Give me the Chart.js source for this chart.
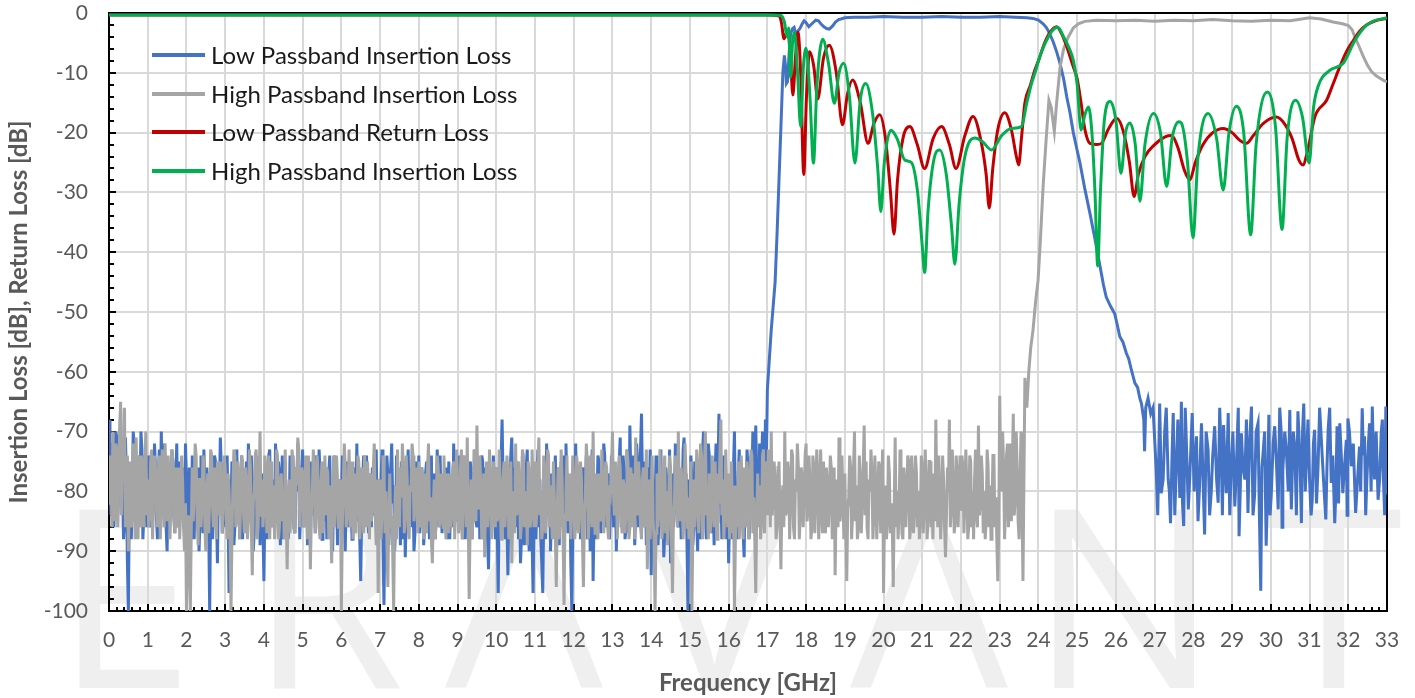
<!DOCTYPE html>
<html>
<head>
<meta charset="utf-8">
<script src="https://cdn.jsdelivr.net/npm/chart.js@4.4.0/dist/chart.umd.min.js"></script>
<style>
  html, body { margin: 0; padding: 0; background: #fff; }
  #wrap { width: 1415px; height: 698px; }
</style>
</head>
<body>
<div id="wrap"><canvas id="chart" width="1415" height="698"></canvas></div>
<script>
// noise floor sections are a plain sweep: main points every 0.05 GHz,
// the "Mid" arrays hold the points half a step later
const sweepStep = 0.05;

const xTickValues = [0,1,2,3,4,5,6,7,8,9,10,11,12,13,14,15,16,17,18,19,20,21,22,23,24,25,26,27,28,29,30,31,32,33];
const yTickValues = [0,-10,-20,-30,-40,-50,-60,-70,-80,-90,-100];

// Low passband insertion loss, 0.00 - 16.95 GHz
const blueNoiseLow = [
  -68,-84,-74,-79,-71,-80,-66,-77,-85,-78,-100,-76,-82,-72,-86,-75,-80,-73,-84,-77,
  -79,-86,-74,-81,-76,-88,-73,-70,-83,-78,-90,-77,-82,-75,-87,-72,-80,-84,-76,-83,
  -78,-85,-80,-74,-88,-79,-76,-84,-81,-73,-87,-79,-100,-77,-83,-75,-92,-80,-76,-85,
  -79,-74,-97,-82,-76,-86,-73,-80,-78,-88,-81,-75,-72,-84,-79,-87,-74,-83,-89,-77,
  -95,-76,-82,-73,-86,-79,-72,-84,-77,-81,-88,-75,-80,-85,-78,-74,-87,-80,-76,-83,
  -73,-81,-78,-86,-75,-82,-79,-74,-84,-77,-88,-80,-76,-83,-74,-81,-79,-85,-89,-78,
  -82,-77,-90,-75,-83,-79,-86,-76,-72,-81,-95,-78,-84,-74,-87,-79,-76,-82,-73,-80,
  -85,-73,-99,-80,-77,-84,-72,-79,-86,-76,-81,-75,-88,-91,-78,-83,-76,-80,-87,-79,
  -74,-82,-78,-86,-75,-81,-79,-90,-77,-84,-80,-74,-87,-79,-76,-83,-88,-78,-72,-81,
  -85,-77,-80,-74,-88,-79,-83,-76,-82,-73,-86,-78,-81,-75,-84,-80,-93,-77,-82,-79,
  -76,-97,-84,-68,-80,-77,-94,-79,-71,-83,-86,-75,-81,-88,-78,-84,-73,-90,-80,-97,
  -82,-78,-86,-88,-97,-79,-72,-84,-90,-77,-81,-85,-76,-83,-79,-74,-72,-87,-80,-100,
  -78,-72,-83,-79,-86,-76,-81,-88,-77,-84,-95,-79,-82,-75,-87,-80,-74,-85,-78,-81,
  -76,-84,-90,-79,-71,-82,-77,-86,-80,-69,-85,-78,-83,-75,-81,-67,-86,-79,-88,-82,
  -94,-78,-83,-76,-85,-73,-80,-87,-79,-84,-92,-77,-81,-75,-86,-79,-82,-71,-77,-100,
  -83,-78,-86,-80,-90,-76,-82,-70,-84,-79,-74,-87,-81,-77,-85,-67,-80,-83,-76,-88,
  -92,-79,-84,-70,-81,-77,-86,-78,-91,-82,-76,-85,-79,-74,-69,-80,-72,-76,-71,-68
];
const blueNoiseLowMid = [
  -78,-72,-86,-70,-84,-73,-81,-88,-71,-92,-82,-88,-70,-84,-74,-85,-70,-88,-74,-86,
  -74,-80,-85,-72,-84,-77,-82,-79,-72,-86,-80,-85,-73,-84,-78,-86,-75,-79,-86,-72,
  -83,-76,-88,-81,-78,-85,-90,-74,-87,-80,-76,-86,-82,-88,-74,-84,-79,-71,-87,-78,
  -86,-84,-80,-75,-89,-78,-84,-88,-74,-79,-86,-82,-80,-74,-90,-78,-85,-76,-80,-86,
  -83,-88,-74,-84,-78,-86,-80,-75,-89,-74,-79,-84,-88,-74,-82,-86,-76,-72,-88,-77,
  -86,-75,-89,-77,-84,-76,-87,-82,-73,-86,-78,-85,-88,-77,-86,-90,-74,-80,-81,-84,
  -74,-85,-80,-86,-76,-88,-78,-82,-85,-88,-83,-74,-79,-82,-77,-86,-84,-75,-85,-78,
  -78,-88,-84,-74,-89,-76,-82,-90,-74,-85,-89,-83,-79,-84,-73,-79,-86,-90,-75,-84,
  -87,-76,-89,-77,-84,-88,-74,-82,-88,-73,-86,-83,-77,-85,-88,-75,-80,-86,-84,-76,
  -74,-86,-88,-83,-78,-86,-75,-88,-77,-85,-79,-88,-74,-86,-76,-88,-83,-85,-74,-88,
  -86,-82,-75,-78,-88,-85,-83,-74,-80,-76,-79,-88,-92,-74,-89,-76,-85,-79,-88,-84,
  -88,-73,-78,-92,-84,-88,-80,-77,-84,-86,-74,-79,-89,-75,-86,-84,-80,-78,-92,-86,
  -85,-80,-76,-88,-77,-84,-74,-79,-90,-73,-84,-88,-74,-84,-79,-72,-86,-77,-88,-74,
  -86,-78,-82,-75,-86,-74,-88,-73,-87,-78,-74,-89,-72,-86,-73,-79,-75,-89,-76,-73,
  -82,-88,-74,-89,-78,-86,-91,-76,-88,-73,-82,-86,-72,-85,-77,-88,-73,-84,-89,-78,
  -74,-89,-75,-85,-79,-88,-74,-80,-88,-72,-83,-78,-89,-72,-76,-79,-88,-74,-85,-79,
  -84,-88,-76,-83,-88,-73,-80,-87,-79,-73,-88,-74,-70,-86,-77,-85,-79,-70,-80,-75
];
const bluePassFreq = [17.00,17.05,17.10,17.15,17.20,17.25,17.30,17.35,17.40,17.44,17.47,17.49,17.52,17.56,17.60,17.65,17.69,17.73,17.78,17.84,
  17.90,17.95,18.01,18.07,18.15,18.25,18.32,18.38,18.46,18.53,18.60,18.68,18.76,18.84,18.90,19.0,19.24,19.6,20.0,20.5,
  21.0,21.5,22.0,22.5,23.0,23.4,23.7,23.86,24.0,24.12,24.2,24.28,24.38,24.47,24.55,24.65,24.73,24.81,24.9,25.0,
  25.07,25.2,25.33,25.45,25.58,25.68,25.75,25.86,25.97,26.03,26.1,26.18,26.27,26.33,26.4,26.49,26.56,26.62,26.66,26.72,
  26.74,26.77,26.83,26.9,26.96];
const bluePassLoss = [-63,-58,-53,-49,-45,-37,-28,-19,-10,-7.1,-9,-11.8,-11.5,-7,-3.5,-2.6,-2.4,-3.4,-3.1,-2.6,
  -1.8,-1.3,-1.7,-2.3,-1.8,-1.2,-1.3,-1.8,-2.3,-2.6,-2.7,-2.2,-1.5,-1.1,-1.0,-0.8,-0.7,-0.7,-0.6,-0.7,
  -0.7,-0.6,-0.7,-0.7,-0.6,-0.7,-0.8,-0.9,-1.2,-1.8,-2.4,-3.3,-4.8,-6.5,-8.3,-11,-14,-16.5,-20,-23,
  -25,-29.5,-33.5,-37.5,-42,-45.5,-47.5,-49,-50.3,-52,-54.1,-55,-56.9,-57.8,-59.7,-61.9,-62.6,-64.5,-65.3,-68,
  -73.3,-66,-64.4,-67,-66];
const blueStopFreq = [27.04,27.13,27.17,27.26,27.35,27.41,27.48,27.56,27.65,27.69,27.75,27.82,27.91,27.97,
  28.08,28.16,28.21,28.29,28.38,28.46,28.55,28.64,28.72,28.78,28.85,28.90,28.98,
  29.07,29.13,29.18,29.24,29.33,29.41,29.50,29.58,29.67,29.74,29.80,29.88,29.95,
  30.01,30.10,30.19,30.27,30.31,30.40,30.49,30.53,30.62,30.70,30.79,30.85,30.92,
  31.00,31.07,31.13,31.22,31.30,31.42,31.48,31.56,31.65,31.71,31.78,31.86,31.95,31.99,
  32.08,32.19,32.29,32.36,32.42,32.48,32.55,32.62,32.68,32.77,32.85,32.90,32.97,33.00];
const blueStopLoss = [-76.4,-65.3,-80.3,-70,-78,-85.3,-66.9,-75.8,-81.1,-65,-85.8,-71.9,-77.2,-66.9,
  -70.8,-79.1,-68.6,-87.2,-73,-80.3,-69.1,-81.9,-74.1,-68.9,-80.3,-66.9,-75.8,
  -82.5,-71.9,-87.5,-70.3,-78,-83.6,-65.8,-80.8,-68.6,-96.6,-73.6,-89.1,-67.2,
  -80.8,-69.1,-83,-70.3,-76.4,-73,-66.4,-83,-72.5,-66.6,-85.3,-65.3,-74.7,
  -78,-81.4,-69.7,-75.8,-70.8,-84.7,-69.7,-78.6,-85.3,-69.1,-68.6,-80.3,-71.4,-67.8,
  -75.8,-83.6,-72.5,-66.1,-70.8,-78,-68.6,-65.8,-78,-81.4,-70.3,-76.4,-65.8,-80.5];
const blueStopFreq2 = [27.08,27.15,27.22,27.30,27.38,27.45,27.52,27.60,27.67,27.72,27.79,27.87,27.94,28.02,28.12,28.19,28.25,28.33,28.42,28.50,
  28.60,28.68,28.75,28.82,28.88,28.94,29.02,29.10,29.16,29.21,29.28,29.37,29.45,29.54,29.62,29.70,29.77,29.84,29.92,29.98,
  30.06,30.15,30.23,30.29,30.36,30.45,30.51,30.58,30.66,30.75,30.82,30.89,30.96,31.04,31.10,31.18,31.26,31.36,31.45,31.52,
  31.60,31.68,31.75,31.82,31.90,31.97,32.03,32.13,32.24,32.32,32.39,32.45,32.52,32.59,32.65,32.72,32.81,32.88,32.94,32.99];
const blueStopLoss2 = [-84,-72,-78,-66,-80,-74,-84,-68,-76,-82,-66,-83,-72,-80,-85,-72,-78,-70,-84,-74,
  -78,-66,-84,-76,-72,-84,-70,-78,-66,-80,-76,-68,-72,-84,-70,-82,-76,-70,-78,-84,
  -72,-76,-66,-86,-70,-80,-76,-70,-84,-74,-70,-80,-68,-84,-72,-82,-66,-78,-76,-66,
  -74,-80,-82,-74,-76,-84,-70,-72,-78,-80,-74,-84,-72,-80,-74,-70,-78,-68,-84,-72];

// High passband insertion loss, 0.00 - 23.60 GHz
const grayNoise = [
  -82,-76,-70,-85,-73,-79,-65,-72,-66,-81,-90,-75,-84,-77,-71,-88,-79,-74,-86,-70,
  -78,-84,-73,-80,-76,-86,-74,-82,-79,-72,-85,-77,-81,-75,-87,-80,-76,-83,-78,-90,
  -100,-84,-100,-76,-80,-74,-89,-78,-83,-75,-90,-77,-81,-74,-86,-79,-75,-84,-78,-82,
  -76,-88,-80,-100,-79,-74,-85,-77,-82,-75,-87,-79,-84,-76,-94,-80,-73,-86,-70,-78,
  -83,-76,-81,-88,-75,-79,-84,-74,-86,-77,-80,-73,-93,-78,-82,-75,-87,-79,-73,-81,
  -77,-85,-79,-74,-93,-80,-76,-83,-78,-88,-75,-81,-84,-77,-79,-92,-74,-82,-78,-86,
  -100,-79,-76,-84,-73,-81,-88,-77,-82,-75,-85,-79,-74,-86,-80,-77,-83,-72,-89,-97,
  -78,-83,-75,-80,-96,-77,-84,-100,-79,-73,-86,-81,-76,-84,-78,-88,-80,-74,-83,-79,
  -75,-84,-80,-77,-87,-72,-81,-92,-78,-83,-76,-85,-79,-74,-88,-80,-77,-84,-75,-82,
  -79,-86,-73,-81,-77,-71,-98,-78,-84,-76,-69,-83,-79,-87,-91,-75,-82,-78,-85,-80,
  -76,-84,-79,-88,-75,-82,-77,-86,-92,-80,-72,-83,-78,-85,-74,-81,-89,-77,-84,-79,
  -75,-83,-71,-80,-86,-77,-82,-74,-79,-88,-81,-96,-76,-84,-78,-99,-80,-85,-77,-82,
  -79,-86,-76,-83,-78,-96,-81,-75,-84,-79,-70,-87,-80,-77,-85,-78,-82,-76,-88,-80,
  -70,-84,-78,-81,-76,-87,-79,-83,-75,-86,-80,-77,-71,-84,-79,-88,-76,-82,-93,-78,
  -81,-85,-100,-77,-83,-79,-86,-74,-80,-84,-76,-97,-82,-78,-70,-85,-79,-83,-77,-81,
  -86,-100,-78,-83,-76,-81,-74,-85,-70,-80,-77,-84,-79,-75,-88,-82,-68,-78,-84,-80,
  -77,-83,-87,-100,-79,-75,-84,-80,-76,-86,-78,-82,-74,-81,-97,-77,-79,-85,-73,-80,
  -84,-76,-70,-81,-78,-86,-75,-93,-79,-70,-83,-77,-82,-74,-88,-80,-76,-84,-78,-81,
  -72,-83,-79,-86,-76,-81,-77,-84,-80,-75,-87,-79,-82,-76,-85,-94,-78,-71,-83,-80,
  -77,-95,-81,-76,-84,-70,-79,-86,-78,-82,-69,-75,-88,-80,-77,-84,-79,-83,-76,-81,
  -97,-79,-85,-77,-82,-96,-71,-80,-84,-76,-88,-79,-81,-75,-86,-78,-83,-77,-80,-85,
  -76,-82,-79,-84,-75,-81,-77,-68,-86,-80,-83,-78,-91,-76,-68,-82,-79,-85,-77,-80,
  -83,-76,-81,-79,-86,-75,-80,-78,-84,-69,-82,-77,-80,-85,-76,-79,-83,-74,-81,-95,
  -64,-80,-76,-83,-72,-79,-85,-67,-81,-76,-88,-70,-95
];
const grayNoiseMid = [
  -74,-86,-80,-72,-86,-70,-84,-78,-86,-74,-80,-86,-72,-88,-80,-74,-86,-80,-76,-84,
  -86,-75,-88,-74,-83,-77,-88,-73,-86,-80,-74,-88,-73,-84,-76,-86,-88,-74,-86,-82,
  -88,-92,-86,-85,-72,-84,-78,-86,-74,-86,-80,-87,-73,-83,-76,-88,-83,-75,-87,-74,
  -84,-77,-86,-88,-73,-86,-75,-88,-74,-84,-76,-88,-73,-86,-82,-74,-88,-79,-84,-86,
  -74,-87,-74,-78,-86,-88,-73,-88,-78,-85,-88,-84,-82,-87,-73,-86,-76,-71,-86,-76,
  -86,-74,-88,-83,-84,-73,-87,-74,-86,-79,-87,-74,-76,-88,-85,-80,-86,-74,-86,-78,
  -86,-72,-86,-79,-86,-75,-78,-87,-74,-88,-76,-87,-82,-75,-88,-85,-76,-84,-78,-84,
  -88,-74,-87,-88,-84,-86,-90,-84,-88,-82,-76,-72,-87,-74,-86,-79,-72,-85,-76,-87,
  -86,-76,-88,-84,-76,-85,-88,-82,-88,-74,-86,-77,-86,-84,-77,-87,-86,-76,-88,-73,
  -87,-76,-88,-74,-86,-84,-85,-88,-73,-85,-80,-74,-88,-77,-80,-86,-73,-88,-75,-86,
  -85,-73,-88,-78,-86,-74,-88,-75,-84,-87,-84,-75,-88,-73,-86,-80,-75,-86,-73,-86,
  -86,-76,-84,-88,-74,-87,-73,-86,-84,-75,-87,-83,-88,-73,-88,-84,-74,-79,-88,-74,
  -88,-74,-87,-75,-88,-84,-72,-88,-74,-86,-82,-77,-88,-84,-73,-87,-75,-86,-79,-76,
  -80,-75,-88,-74,-85,-78,-87,-73,-88,-76,-86,-88,-82,-75,-86,-78,-86,-73,-84,-88,
  -74,-88,-87,-86,-73,-88,-76,-87,-89,-74,-88,-84,-74,-86,-80,-76,-88,-72,-86,-88,
  -75,-88,-86,-73,-87,-72,-88,-76,-84,-88,-87,-74,-86,-84,-77,-74,-84,-88,-73,-86,
  -88,-75,-79,-88,-86,-88,-74,-88,-84,-75,-88,-73,-87,-88,-84,-86,-88,-74,-87,-75,
  -73,-86,-84,-75,-88,-76,-84,-82,-86,-84,-75,-88,-73,-86,-78,-72,-88,-76,-86,-74,
  -85,-74,-88,-74,-87,-73,-88,-73,-87,-84,-76,-86,-74,-88,-76,-82,-86,-85,-74,-88,
  -86,-83,-74,-88,-76,-85,-88,-74,-87,-76,-84,-86,-78,-73,-88,-74,-88,-75,-87,-73,
  -84,-88,-74,-87,-85,-83,-86,-88,-73,-87,-76,-86,-74,-88,-74,-87,-74,-86,-88,-74,
  -87,-73,-88,-75,-86,-88,-85,-80,-74,-88,-74,-86,-84,-80,-86,-73,-87,-74,-86,-74,
  -74,-87,-73,-88,-74,-86,-88,-73,-86,-84,-74,-87,-88,-73,-86,-88,-74,-86,-88,-86,
  -78,-70,-88,-74,-86,-72,-76,-84,-70,-85,-78,-82
];
const grayPassFreq = [23.65,23.70,23.75,23.80,23.86,23.93,23.99,24.05,24.12,24.20,
  24.27,24.33,24.41,24.47,24.56,24.65,24.77,24.90,25.03,25.20,25.50,
  26.00,26.50,27.00,27.50,28.00,28.50,29.00,29.50,30.00,30.50,
  31.00,31.30,31.61,31.85,32.00,32.10,
  32.17,32.28,32.39,32.50,32.60,32.72,32.82,32.92,33.00];
const grayPassLoss = [-61,-66,-60,-56,-53,-48,-44.7,-38,-29,-21,
  -14.6,-15.8,-19.8,-15,-9,-6,-4,-2.5,-1.8,-1.4,-1.2,
  -1.3,-1.2,-1.4,-1.2,-1.3,-1.1,-1.3,-1.4,-1.2,-1.3,
  -0.8,-1.0,-1.5,-1.8,-2.1,-2.8,
  -4,-5.6,-7.3,-8.8,-9.8,-10.5,-10.9,-11.3,-11.5];

// Low passband return loss
const redFreq = [0,17.0,17.3,17.36,17.43,17.48,17.53,17.6,17.66,17.72,
  17.79,17.86,17.94,18.01,18.09,18.2,18.3,18.45,18.6,18.78,
  18.94,19.07,19.2,19.4,19.6,19.75,19.9,20.05,20.18,20.27,
  20.36,20.5,20.68,20.87,21.06,21.28,21.5,21.7,21.87,22.1,
  22.31,22.52,22.65,22.73,22.82,22.95,23.13,23.3,23.43,23.49,
  23.56,23.65,23.78,23.91,24.0,24.16,24.3,24.47,24.6,24.75,
  24.9,25.0,25.1,25.2,25.33,25.5,25.63,25.8,26.02,26.2,
  26.35,26.47,26.58,26.75,27.0,27.27,27.44,27.6,27.78,27.91,
  28.05,28.25,28.5,28.77,29.0,29.2,29.37,29.55,29.8,30.14,
  30.35,30.55,30.72,30.83,30.95,31.14,31.44,31.6,31.78,31.95,
  32.13,32.3,32.47,32.7,33.0];
const redLoss = [-0.35,-0.35,-0.5,-1.5,-4.3,-3.5,-2.9,-8,-13.7,-8,
  -3.2,-10,-27,-14,-6.5,-9,-14.4,-7.5,-5.4,-10,
  -18.7,-13.5,-11.2,-15,-21.8,-18.5,-17,-21,-30,-37,
  -28,-21,-19,-22,-26,-21,-19,-22,-26,-20.5,
  -17.3,-21.5,-27,-32.6,-26,-19.5,-16.7,-19.5,-24,-25.4,
  -21,-15,-12.3,-9.5,-8,-5,-3.2,-2.3,-3.5,-6,
  -9,-11,-15,-19.5,-21.8,-22,-21.8,-19.5,-17.6,-20,
  -25,-30.7,-27,-24,-22,-20.7,-20.5,-22.5,-26.5,-27.9,
  -25,-22,-20,-19.3,-20,-21.3,-21.8,-20.5,-18.5,-17.4,
  -18.5,-21,-24.5,-25.4,-23,-17.3,-14.6,-12,-9,-6.5,
  -4.6,-3,-2,-1.3,-0.9];

// High passband return loss (labelled "Insertion Loss" in the original legend)
const greenFreq = [0,17.0,17.35,17.44,17.51,17.55,17.6,17.65,17.7,17.78,
  17.86,17.93,18.0,18.1,18.19,18.28,18.43,18.58,18.73,18.85,
  18.97,19.12,19.26,19.4,19.54,19.72,19.85,19.93,20.02,20.19,
  20.35,20.55,20.72,20.88,21.0,21.06,21.15,21.3,21.45,21.62,
  21.76,21.84,21.95,22.1,22.36,22.55,22.79,23.05,23.3,23.56,
  23.7,23.82,23.91,24.05,24.17,24.35,24.5,24.65,24.8,24.9,
  25.0,25.1,25.2,25.29,25.38,25.46,25.53,25.6,25.7,25.85,
  26.0,26.13,26.25,26.36,26.5,26.62,26.75,26.97,27.15,27.31,
  27.45,27.63,27.69,27.85,27.99,28.12,28.38,28.6,28.77,28.92,
  29.11,29.3,29.48,29.62,29.91,30.12,30.29,30.42,30.64,30.82,
  30.99,31.1,31.22,31.52,31.87,32.17,32.4,32.6,33.0];
const greenLoss = [-0.35,-0.35,-0.4,-1.5,-4,-2.5,-10.7,-5,-3.2,-10,
  -19,-9,-5.9,-14,-25.1,-12,-4.4,-8.5,-15.1,-10,
  -8.4,-14,-25.1,-14.5,-11.8,-17,-26,-33.2,-25,-19.6,
  -21,-24.6,-25,-30,-39,-43.4,-33,-24.5,-22.9,-27,
  -36,-42,-32,-24,-20.9,-21.5,-22.9,-20.5,-19.3,-19,
  -15,-11.8,-10,-7,-5.1,-3,-2.4,-4,-6,-7.9,
  -12,-19.6,-17,-15.7,-20,-30,-42.3,-30,-18,-14.8,
  -18,-26.8,-20,-18.4,-22,-31.5,-22,-16.8,-20,-29,
  -21,-18.2,-18.4,-25,-37.6,-24,-16.8,-21,-29.6,-20,
  -15.6,-20,-37.1,-22,-13.2,-19,-36.2,-21,-14.6,-17.5,
  -25.1,-16,-12.3,-9.6,-8.4,-4.6,-2.5,-1.5,-0.8];

const seriesNames = ['Low Passband Insertion Loss', 'High Passband Insertion Loss', 'Low Passband Return Loss', 'High Passband Insertion Loss'];
const seriesColors = ['#4472C4', '#A5A5A5', '#C00000', '#00B050'];

function sweep(start, values, mids) {
    const out = [];
    values.forEach((v, i) => {
        out.push({ x: +(start + i * sweepStep).toFixed(3), y: v });
        if (i < mids.length) out.push({ x: +(start + (i + 0.5) * sweepStep).toFixed(3), y: mids[i] });
    });
    return out;
}
function pairs(freqs, losses) {
    return freqs.map((f, i) => ({ x: f, y: losses[i] }));
}

const blueStop = pairs(blueStopFreq, blueStopLoss).concat(pairs(blueStopFreq2, blueStopLoss2)).sort((a, b) => a.x - b.x);
const blueData = sweep(0, blueNoiseLow, blueNoiseLowMid).concat(pairs(bluePassFreq, bluePassLoss), blueStop);
const grayData = sweep(0, grayNoise, grayNoiseMid).concat(pairs(grayPassFreq, grayPassLoss));
const redData = pairs(redFreq, redLoss);
const greenData = pairs(greenFreq, greenLoss);

const FONT = "Lato, 'Open Sans', sans-serif";

// watermark behind the plot
const watermark = {
    id: 'watermark',
    beforeDraw(chart) {
        const ctx = chart.ctx;
        ctx.save();
        ctx.fillStyle = '#fff';
        ctx.fillRect(0, 0, chart.width, chart.height);
        ctx.fillStyle = '#efefef';
        ctx.font = "250px 'Open Sans', sans-serif";
        ctx.textBaseline = 'alphabetic';
        const letters = [['E', 55], ['R', 250], ['A', 445], ['V', 640], ['A', 850], ['N', 1030], ['T', 1265]];
        letters.forEach(([ch, x]) => ctx.fillText(ch, x, 688));
        ctx.restore();
    }
};

// plot frame and the small inside tick marks
const frame = {
    id: 'frame',
    beforeDatasetsDraw(chart) {
        const {ctx, chartArea: a, scales: {x, y}} = chart;
        ctx.save();
        ctx.strokeStyle = '#000';
        ctx.lineWidth = 2;
        ctx.beginPath();
        for (let g = 0; g <= 33.001; g += 0.2) {
            const px = Math.round(x.getPixelForValue(g));
            const major = Math.abs(g - Math.round(g)) < 0.01;
            ctx.moveTo(px, a.bottom);
            ctx.lineTo(px, a.bottom - (major ? 7 : 4));
        }
        for (let d = 0; d >= -100.001; d -= 2) {
            const py = Math.round(y.getPixelForValue(d));
            const major = d % 10 === 0;
            ctx.moveTo(a.left, py);
            ctx.lineTo(a.left + (major ? 7 : 5), py);
        }
        ctx.stroke();
        ctx.strokeRect(a.left, a.top, a.right - a.left, a.bottom - a.top);
        ctx.restore();
    }
};

const legendBox = {
    id: 'legendBox',
    afterDraw(chart) {
        const ctx = chart.ctx;
        ctx.save();
        ctx.font = '24px ' + FONT;
        ctx.textBaseline = 'middle';
        const rows = [55, 94, 132, 171];
        seriesNames.forEach((name, i) => {
            ctx.strokeStyle = seriesColors[i];
            ctx.lineWidth = 4;
            ctx.beginPath();
            ctx.moveTo(152, rows[i]);
            ctx.lineTo(205, rows[i]);
            ctx.stroke();
            ctx.fillStyle = '#1a1a1a';
            ctx.fillText(name, 211, rows[i] + 1);
        });
        ctx.restore();
    }
};

function lineSet(i, data, order, smooth) {
    return {
        label: seriesNames[i],
        data: data,
        borderColor: seriesColors[i],
        backgroundColor: seriesColors[i],
        borderWidth: 3,
        pointRadius: 0,
        fill: false,
        order: order,
        tension: 0,
        cubicInterpolationMode: smooth ? 'monotone' : 'default'
    };
}

new Chart(document.getElementById('chart'), {
    type: 'line',
    data: {
        datasets: [
            lineSet(0, blueData, 3, false),
            lineSet(1, grayData, 2, false),
            lineSet(2, redData, 1, true),
            lineSet(3, greenData, 0, true)
        ]
    },
    options: {
        responsive: false,
        animation: false,
        devicePixelRatio: 1,
        layout: { padding: { top: 13, right: 28, left: 0, bottom: 0 } },
        plugins: { legend: { display: false }, tooltip: { enabled: false } },
        scales: {
            x: {
                type: 'linear',
                min: 0,
                max: 33,
                afterFit: s => { s.height = 87; },
                afterBuildTicks: s => { s.ticks = xTickValues.map(v => ({ value: v })); },
                grid: { color: '#d9d9d9', lineWidth: 2, drawTicks: true, tickLength: 17, tickColor: 'rgba(0,0,0,0)' },
                border: { display: false },
                ticks: { color: '#595959', font: { family: FONT, size: 21 }, padding: 0, maxRotation: 0, autoSkip: false },
                title: { display: true, text: 'Frequency [GHz]', color: '#595959', font: { family: FONT, size: 24, weight: 'bold' }, padding: { top: 0, bottom: 0 } }
            },
            y: {
                min: -100,
                max: 0,
                afterFit: s => { s.width = 109; },
                afterBuildTicks: s => { s.ticks = yTickValues.map(v => ({ value: v })); },
                grid: { color: '#d9d9d9', lineWidth: 2, drawTicks: true, tickLength: 21, tickColor: 'rgba(0,0,0,0)' },
                border: { display: false },
                ticks: { color: '#595959', font: { family: FONT, size: 21 }, padding: 0 },
                title: { display: true, text: 'Insertion Loss [dB], Return Loss [dB]', color: '#595959', font: { family: FONT, size: 24, weight: 'bold' }, padding: { top: 5, bottom: 0 } }
            }
        }
    },
    plugins: [watermark, frame, legendBox]
});
</script>
</body>
</html>
